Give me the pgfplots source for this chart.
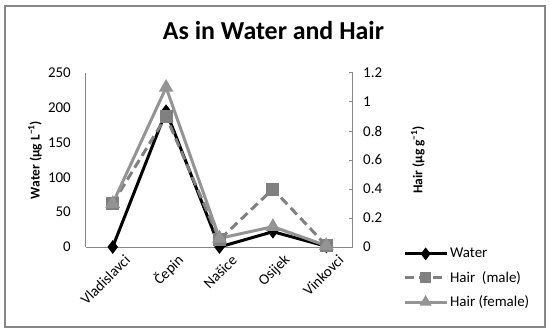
\documentclass[border=0pt]{standalone}
\usepackage{fontspec}
\setmainfont{Carlito}
\usepackage{pgfplots}
\usepackage{pgfplotstable}
\pgfplotsset{compat=1.18}
\definecolor{axgray}{RGB}{134,134,134}
\definecolor{malegray}{RGB}{128,128,128}
\definecolor{femgray}{RGB}{148,148,148}

% water in ug/L, hair in ug/g
\pgfplotstableread{
idx water male female
0 0   0.30 0.30
1 195 0.90 1.10
2 0   0.05 0.06
3 22  0.40 0.14
4 1   0.01 0.01
}\astable

\pgfplotsset{
  common/.style={
    scale only axis, width=267bp, height=174bp,
    xmin=-0.5, xmax=4.5, clip=false,
    ticklabel style={font=\fontsize{15}{18}\selectfont},
    label style={font=\fontsize{13.5}{16}\selectfont\bfseries},
    axis line style={axgray, line width=1bp, -},
    /pgf/number format/assume math mode=true,
  },
}

\begin{document}
\begin{tikzpicture}
\begin{axis}[common,
  axis x line*=bottom, axis y line*=left,
  ymin=0, ymax=250, ytick={0,50,100,150,200,250},
  major tick length=0pt,
  xtick={0,1,2,3,4},
  xticklabels={Vladislavci,Čepin,Našice,Osijek,Vinkovci},
  x tick label style={rotate=45, anchor=east, inner sep=0pt, yshift=-18bp, xshift=3bp},
  y tick label style={inner sep=0pt, xshift=-15bp},
  ylabel={Water (µg L\textsuperscript{−1})},
  ylabel style={at={(axis description cs:-0.191,0.5)}, anchor=center},
  title={As in Water and Hair},
  title style={at={(axis description cs:0.702,1.161)}, anchor=base,
    font=\fontsize{26}{30}\selectfont\bfseries},
]
\addplot[black, line width=3bp, mark=diamond*, mark size=4.5bp] table[x=idx, y=water] {\astable};
\end{axis}

\begin{axis}[common,
  axis x line=none, axis y line*=right,
  ymin=0, ymax=1.2, ytick={0,0.2,0.4,0.6,0.8,1,1.2},
  major tick length=4bp, tick align=inside,
  ytick style={axgray, line width=1bp},
  y tick label style={inner sep=0pt, anchor=west, xshift=10bp},
  ylabel={Hair (µg g\textsuperscript{−1})},
  ylabel style={at={(axis description cs:1.243,0.5)}, anchor=center},
  legend style={draw=none, fill=none, at={(axis description cs:1.187,0.005)},
    anchor=north west, font=\fontsize{15}{18}\selectfont, row sep=8bp, inner sep=0pt},
  legend cell align=left,
  legend image code/.code={\draw[mark repeat=2, mark phase=2, #1, mark size=4bp] plot coordinates {(0bp,0bp) (21bp,0bp) (42bp,0bp)};},
]
\addlegendimage{black, line width=3bp, mark=diamond*}
\addlegendentry{Water}
\addplot[malegray, line width=3bp, dash pattern=on 9bp off 5bp, mark=square*, mark size=5bp, mark options={solid}] table[x=idx, y=male] {\astable};
\addlegendentry{Hair\ \ (male)}
\addplot[femgray, line width=3bp, mark=triangle*, mark size=5.5bp] table[x=idx, y=female] {\astable};
\addlegendentry{Hair (female)}
\end{axis}

\draw[axgray, line width=1.5bp] (-81bp,-80bp) rectangle (459bp,241bp);
\pgfresetboundingbox
\path (-86bp,-85bp) rectangle (464bp,247bp);
\end{tikzpicture}
\end{document}
